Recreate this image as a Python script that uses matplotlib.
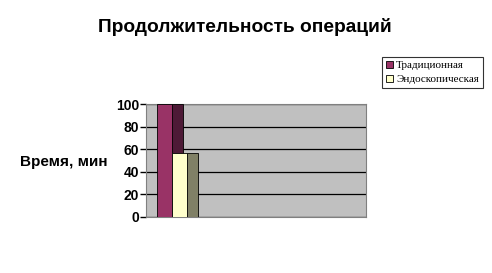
import matplotlib
matplotlib.use('Agg')
import matplotlib.pyplot as plt
from matplotlib.patches import Patch

# data
series = ["Традиционная", "Эндоскопическая"]
values = [100, 57]
front_colors = ["#993366", "#ffffcc"]
side_colors = ["#4d1a36", "#808066"]
yticks = [0, 20, 40, 60, 80, 100]

title = "Продолжительность операций"
ylabel = "Время, мин"

fig = plt.figure(figsize=(4.92, 2.73), dpi=100)
ax = fig.add_axes([146 / 492, 56 / 273, 220 / 492, 113 / 273])
ax.set_facecolor("#c0c0c0")

# columns: front face plus a darker side face to fake the 3d look
front_w = 15
side_w = 11
start = 11
for i, (v, fc, sc) in enumerate(zip(values, front_colors, side_colors)):
    x0 = start + i * front_w
    ax.bar(x0 + front_w, v - 0.8 * i, width=side_w, align="edge", color=sc,
           edgecolor="black", linewidth=0.6, zorder=3 + i)
    ax.bar(x0, v, width=front_w, align="edge", color=fc,
           edgecolor="black", linewidth=0.6, zorder=4 + i)

ax.set_xlim(0, 220)
ax.set_ylim(0, 100)
ax.set_yticks(yticks)
ax.set_yticklabels([str(t) for t in yticks], fontfamily="Liberation Sans",
                   fontweight="bold", fontsize=10)
ax.tick_params(axis="y", length=4, width=1, color="black", pad=1)
ax.set_xticks([])
ax.yaxis.grid(True, color="black", linewidth=0.9, zorder=1)
ax.set_axisbelow(True)
for s in ax.spines.values():
    s.set_color("#808080")
    s.set_linewidth(0.8)

fig.text(64 / 492, 1 - 162 / 273, ylabel, ha="center", va="center",
         fontfamily="Liberation Sans", fontweight="bold", fontsize=11)
fig.text(245 / 492, 1 - 27 / 273, title, ha="center", va="center",
         fontfamily="Liberation Sans", fontweight="bold", fontsize=13.8)

handles = [Patch(facecolor=c, edgecolor="black", linewidth=0.6) for c in front_colors]
leg = fig.legend(handles, series, loc="upper left",
                 bbox_to_anchor=(382 / 492, 1 - 57 / 273),
                 prop={"family": "Liberation Serif", "size": 8},
                 frameon=True, fancybox=False, edgecolor="black",
                 handlelength=0.6, handleheight=0.6, handletextpad=0.3,
                 borderpad=0.35, labelspacing=0.4, borderaxespad=0)
leg.get_frame().set_linewidth(0.8)

fig.savefig("out.png", dpi=100, facecolor="white")
